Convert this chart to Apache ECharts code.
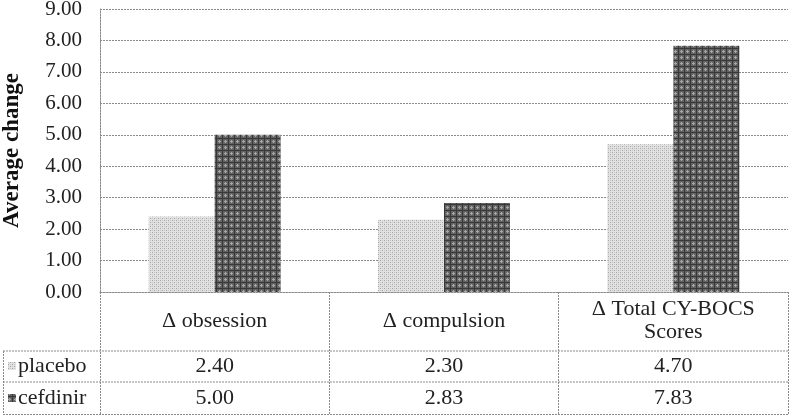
<!DOCTYPE html>
<html>
<head>
<meta charset="utf-8">
<script src="https://cdn.jsdelivr.net/npm/echarts@6/dist/echarts.min.js"></script>
<style>
html,body{margin:0;padding:0;background:#fff;}
#chart{width:789px;height:417px;}
</style>
</head>
<body>
<div id="chart"></div>
<script>
var categories = ['\u0394 obsession', '\u0394 compulsion', '\u0394 Total CY-BOCS\nScores'];
var seriesNames = ['placebo', 'cefdinir'];
var placebo = [2.40, 2.30, 4.70];
var cefdinir = [5.00, 2.83, 7.83];
var yTicks = [0, 1, 2, 3, 4, 5, 6, 7, 8, 9];
var yTitle = 'Average change';

function makePattern(kind) {
  var c = document.createElement('canvas');
  var ctx;
  if (kind === 'light') {
    c.width = 4; c.height = 4; ctx = c.getContext('2d');
    ctx.fillStyle = '#e2e2e2'; ctx.fillRect(0, 0, 4, 4);
    ctx.fillStyle = '#a4a4a4';
    ctx.fillRect(0, 0, 1, 1); ctx.fillRect(2, 2, 1, 1);
    ctx.fillStyle = '#c6c6c6';
    ctx.fillRect(2, 0, 1, 1); ctx.fillRect(0, 2, 1, 1);
  } else {
    c.width = 6; c.height = 6; ctx = c.getContext('2d');
    ctx.fillStyle = '#646464'; ctx.fillRect(0, 0, 6, 6);
    ctx.fillStyle = '#383838';
    ctx.fillRect(0, 0, 6, 1); ctx.fillRect(0, 0, 1, 6);
    ctx.fillStyle = '#a6a6a6';
    ctx.fillRect(3, 3, 1, 1); ctx.fillRect(2, 3, 1, 1); ctx.fillRect(3, 2, 1, 1); ctx.fillRect(4, 3, 1, 1); ctx.fillRect(3, 4, 1, 1);
  }
  return c;
}
var lightPat = {image: makePattern('light'), repeat: 'repeat'};
var darkPat = {image: makePattern('dark'), repeat: 'repeat'};

var FONT = '"Liberation Serif", "Times New Roman", Times, serif';
var FS = 22;
var lineCol = '#8a8a8a';
var dotted = {color: lineCol, width: 1, type: [2, 1]};

var gridLeft = 100, gridTop = 9, gridRight = 788, gridBottom = 292;
var row1 = 351, row2 = 382, row3 = 415;

var chart = echarts.init(document.getElementById('chart'));
chart.setOption({
  animation: false,
  backgroundColor: '#fff',
  grid: {left: gridLeft, top: gridTop, right: 789 - gridRight, bottom: 417 - gridBottom, containLabel: false, outerBoundsMode: 'none'},
  yAxis: {
    type: 'value', min: yTicks[0], max: yTicks[yTicks.length - 1], interval: 1,
    axisLine: {show: true, lineStyle: dotted},
    axisTick: {show: false},
    splitLine: {show: true, lineStyle: dotted},
    axisLabel: {
      formatter: function (v) { return v.toFixed(2); },
      fontFamily: FONT, fontSize: 21, color: '#222', margin: 18
    },
    name: yTitle, nameLocation: 'middle', nameGap: 76, nameRotate: 90,
    nameTextStyle: {fontFamily: FONT, fontSize: 23, fontWeight: 'bold', color: '#111'}
  },
  xAxis: [
    {
      type: 'category', data: categories, position: 'bottom',
      axisLine: {show: true, lineStyle: dotted},
      axisTick: {show: true, length: row3 - gridBottom, lineStyle: dotted, alignWithLabel: false},
      axisLabel: {fontFamily: FONT, fontSize: FS, color: '#222', margin: 29, verticalAlign: 'middle', lineHeight: 23, interval: 0}
    },
    {
      type: 'category', data: placebo.map(function (v) { return v.toFixed(2); }), position: 'bottom', offset: 74,
      axisLine: {show: false}, axisTick: {show: false},
      axisLabel: {fontFamily: FONT, fontSize: FS, color: '#222', margin: 0, verticalAlign: 'middle', interval: 0}
    },
    {
      type: 'category', data: cefdinir.map(function (v) { return v.toFixed(2); }), position: 'bottom', offset: 106,
      axisLine: {show: false}, axisTick: {show: false},
      axisLabel: {fontFamily: FONT, fontSize: FS, color: '#222', margin: 0, verticalAlign: 'middle', interval: 0}
    }
  ],
  series: [
    {name: seriesNames[0], type: 'bar', data: placebo, barWidth: 66, barGap: 0, xAxisIndex: 0,
     itemStyle: {color: lightPat}},
    {name: seriesNames[1], type: 'bar', data: cefdinir, barWidth: 66, barGap: 0, xAxisIndex: 0,
     itemStyle: {color: darkPat}}
  ],
  graphic: [
    {type: 'line', shape: {x1: 3, y1: row1, x2: gridRight, y2: row1}, style: {stroke: lineCol, lineWidth: 1, lineDash: [2, 1]}},
    {type: 'line', shape: {x1: 3, y1: row2, x2: gridRight, y2: row2}, style: {stroke: lineCol, lineWidth: 1, lineDash: [2, 1]}},
    {type: 'line', shape: {x1: 3, y1: row3 - 0.5, x2: gridRight, y2: row3 - 0.5}, style: {stroke: lineCol, lineWidth: 1, lineDash: [2, 1]}},
    {type: 'line', shape: {x1: 3.5, y1: row1, x2: 3.5, y2: row3}, style: {stroke: lineCol, lineWidth: 1, lineDash: [2, 1]}},
    {type: 'rect', shape: {x: 8, y: 362, width: 8, height: 8}, style: {fill: lightPat}},
    {type: 'rect', shape: {x: 8, y: 394, width: 8, height: 8}, style: {fill: darkPat}},
    {type: 'text', x: 18, y: (row1 + row2) / 2, style: {text: seriesNames[0], fontFamily: FONT, fontSize: FS, fill: '#222', verticalAlign: 'middle'}},
    {type: 'text', x: 18, y: (row2 + row3) / 2, style: {text: seriesNames[1], fontFamily: FONT, fontSize: FS, fill: '#222', verticalAlign: 'middle'}}
  ]
});
</script>
</body>
</html>
